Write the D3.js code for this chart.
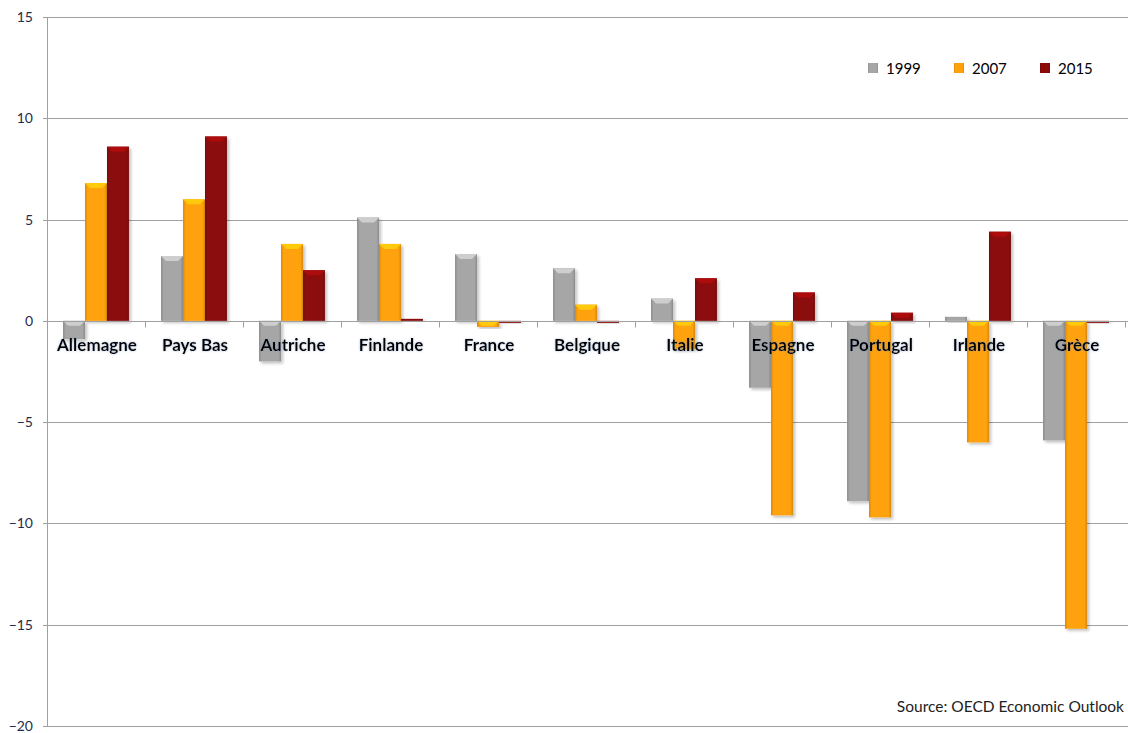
<!DOCTYPE html>
<html>
<head>
<meta charset="utf-8">
<script src="https://cdn.jsdelivr.net/npm/d3@7"></script>
<style>
  body { margin: 0; background: #fff; }
  svg { display: block; font-family: Lato, "Open Sans", sans-serif; }
</style>
</head>
<body>
<svg id="chart"></svg>
<script>
// data
const countries = ['Allemagne', 'Pays Bas', 'Autriche', 'Finlande', 'France', 'Belgique',
                   'Italie', 'Espagne', 'Portugal', 'Irlande', 'Grèce'];
const years = ['1999', '2007', '2015'];
const v1999 = [-0.9, 3.2, -2.0, 5.1, 3.3, 2.6, 1.1, -3.3, -8.9, 0.2, -5.9];
const v2007 = [6.8, 6.0, 3.8, 3.8, -0.3, 0.8, -1.4, -9.6, -9.7, -6.0, -15.2];
const v2015 = [8.6, 9.1, 2.5, 0.1, -0.1, -0.1, 2.1, 1.4, 0.4, 4.4, -0.1];
const yTicks = [15, 10, 5, 0, -5, -10, -15, -20];

const series = [v1999, v2007, v2015];
const colors = ['#a6a6a6', '#ffa20a', '#8c0a0a'];

const width = 1128, height = 733;
const margin = {top: 17, right: 3, bottom: 7, left: 47};

const svg = d3.select('#chart')
    .attr('width', width)
    .attr('height', height);

// gradients to mimic the bevelled bars
const defs = svg.append('defs');
colors.forEach((c, i) => {
    const g = defs.append('linearGradient')
        .attr('id', 'grad' + i)
        .attr('x1', 0).attr('x2', 1).attr('y1', 0).attr('y2', 0);
    g.append('stop').attr('offset', '0%').attr('stop-color', d3.color(c).darker(0.5));
    g.append('stop').attr('offset', '12%').attr('stop-color', c);
    g.append('stop').attr('offset', '88%').attr('stop-color', c);
    g.append('stop').attr('offset', '100%').attr('stop-color', d3.color(c).darker(0.5));
});
const shadow = defs.append('filter').attr('id', 'shadow')
    .attr('x', '-20%').attr('y', '-20%').attr('width', '150%').attr('height', '150%');
shadow.append('feDropShadow')
    .attr('dx', 2).attr('dy', 2).attr('stdDeviation', 1.5)
    .attr('flood-color', '#000').attr('flood-opacity', 0.25);
const glow = defs.append('filter').attr('id', 'glow');
glow.append('feDropShadow')
    .attr('dx', 0).attr('dy', 0).attr('stdDeviation', 1.2)
    .attr('flood-color', '#7a8fb0').attr('flood-opacity', 0.6);

const innerW = width - margin.left - margin.right;
const innerH = height - margin.top - margin.bottom;

const chart = svg.append('g')
    .attr('transform', `translate(${margin.left}, ${margin.top})`);

const yscale = d3.scaleLinear().domain([15, -20]).range([0, innerH]);
const xscale = d3.scaleBand().domain(countries).range([0, innerW]).paddingInner(0).paddingOuter(0);
const sub = d3.scaleBand().domain(years).range([0, xscale.bandwidth()]).paddingInner(0).paddingOuter(0.73);

// gridlines
chart.append('g')
    .selectAll('line')
    .data(yTicks)
    .join('line')
    .attr('x1', -4)
    .attr('x2', innerW + margin.right)
    .attr('y1', d => Math.round(yscale(d)) + 0.5)
    .attr('y2', d => Math.round(yscale(d)) + 0.5)
    .attr('stroke', '#a0a0a0')
    .attr('stroke-width', 1);

// y axis
const yaxis = d3.axisLeft(yscale)
    .tickValues(yTicks)
    .tickSize(0)
    .tickPadding(14)
    .tickFormat(d3.format('d'));
const yaxis_group = chart.append('g').call(yaxis);
yaxis_group.select('.domain').remove();
yaxis_group.selectAll('text')
    .style('font-size', '14px')
    .style('font-family', 'Lato, sans-serif')
    .attr('fill', '#1f2d4d');

chart.append('line')
    .attr('x1', 0.5).attr('x2', 0.5)
    .attr('y1', 0).attr('y2', innerH)
    .attr('stroke', '#a0a0a0');

// bars
countries.forEach((c, ci) => {
    const g = chart.append('g')
        .attr('transform', `translate(${xscale(c)}, 0)`);
    const rows = series.map((s, si) => ({year: years[si], v: s[ci], si}));
    g.selectAll('rect')
        .data(rows)
        .join('rect')
        .attr('x', d => sub(d.year))
        .attr('width', sub.bandwidth())
        .attr('y', d => yscale(Math.max(0, d.v)))
        .attr('height', d => Math.max(1.5, Math.abs(yscale(d.v) - yscale(0))))
        .attr('fill', d => `url(#grad${d.si})`)
        .attr('filter', 'url(#shadow)');
    // lighter bevel at the bar end near zero / top
    g.selectAll('path.bevel')
        .data(rows.filter(d => Math.abs(d.v) > 0.25))
        .join('path')
        .attr('class', 'bevel')
        .attr('d', d => {
            const x0 = sub(d.year), w = sub.bandwidth();
            const y0 = d.v > 0 ? yscale(d.v) : yscale(0);
            const b = 5;
            return `M${x0},${y0}L${x0 + w},${y0}L${x0 + w - b},${y0 + b}L${x0 + b},${y0 + b}Z`;
        })
        .attr('fill', d => d3.color(colors[d.si]).brighter(0.6));
});

// zero line with category ticks
const zeroY = Math.round(yscale(0)) + 0.5;
chart.append('line')
    .attr('x1', 0).attr('x2', innerW)
    .attr('y1', zeroY).attr('y2', zeroY)
    .attr('stroke', '#a0a0a0');
chart.append('g')
    .selectAll('line')
    .data(countries)
    .join('line')
    .attr('x1', (d, i) => Math.round(xscale.step() * (i + 1)) + 0.5)
    .attr('x2', (d, i) => Math.round(xscale.step() * (i + 1)) + 0.5)
    .attr('y1', zeroY)
    .attr('y2', zeroY + 6)
    .attr('stroke', '#a0a0a0');

// category labels
chart.append('g')
    .selectAll('text')
    .data(countries)
    .join('text')
    .attr('x', d => xscale(d) + xscale.bandwidth() / 2 + 1)
    .attr('y', yscale(0) + 30)
    .attr('text-anchor', 'middle')
    .style('font-size', '17px')
    .style('font-weight', 'bold')
    .attr('fill', '#000')
    .attr('filter', 'url(#glow)')
    .text(d => d);

// legend
const legend = svg.append('g')
    .attr('transform', 'translate(868, 69)');
years.forEach((y, i) => {
    const lg = legend.append('g').attr('transform', `translate(${i * 86}, 0)`);
    lg.append('rect')
        .attr('x', 0).attr('y', -6)
        .attr('width', 10).attr('height', 10)
        .attr('fill', `url(#grad${i})`);
    lg.append('text')
        .attr('x', 18).attr('y', 5)
        .style('font-size', '15px')
        .attr('fill', '#000')
        .text(y);
});

// source
svg.append('text')
    .attr('x', 1124)
    .attr('y', 712)
    .attr('text-anchor', 'end')
    .style('font-size', '15.5px')
    .attr('fill', '#222')
    .text('Source: OECD Economic Outlook');
</script>
</body>
</html>
